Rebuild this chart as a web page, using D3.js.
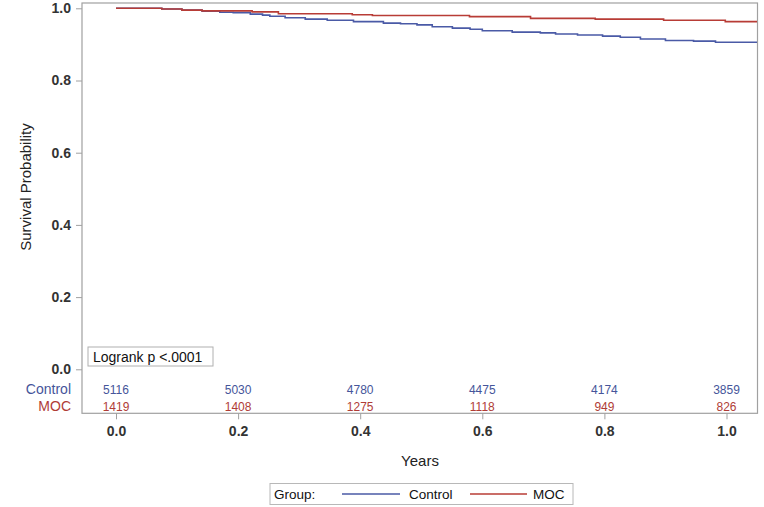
<!DOCTYPE html>
<html><head><meta charset="utf-8">
<script src="https://cdn.jsdelivr.net/npm/d3@7"></script>
<style>body{margin:0;background:#fff;font-family:"Liberation Sans",Arial,sans-serif;}</style>
</head><body><svg id="c" width="764" height="507"></svg>
<script>
const controlTimes = [0, 0.075, 0.108, 0.141, 0.170, 0.192, 0.220, 0.240, 0.252, 0.277, 0.310, 0.346, 0.389, 0.438, 0.466, 0.493, 0.518, 0.551, 0.580, 0.600, 0.649, 0.695, 0.720, 0.756, 0.797, 0.826, 0.859, 0.900, 0.946, 0.982, 1.05];
const controlSurv  = [1.000, 0.998, 0.995, 0.992, 0.989, 0.988, 0.984, 0.981, 0.978, 0.974, 0.970, 0.967, 0.963, 0.959, 0.957, 0.954, 0.949, 0.945, 0.942, 0.938, 0.934, 0.932, 0.929, 0.926, 0.923, 0.920, 0.915, 0.911, 0.909, 0.906, 0.906];
const mocTimes = [0, 0.075, 0.108, 0.141, 0.223, 0.266, 0.387, 0.420, 0.579, 0.679, 0.785, 0.897, 0.998, 1.05];
const mocSurv  = [1.000, 0.998, 0.995, 0.993, 0.990, 0.985, 0.982, 0.980, 0.977, 0.972, 0.970, 0.967, 0.963, 0.963];
const xTicks = [0, 0.2, 0.4, 0.6, 0.8, 1.0];
const yTicks = [0, 0.2, 0.4, 0.6, 0.8, 1.0];
const atRiskControl = [5116, 5030, 4780, 4475, 4174, 3859];
const atRiskMOC = [1419, 1408, 1275, 1118, 949, 826];
const groups = ["Control", "MOC"];
const colors = {Control: "#4a5aa6", MOC: "#b83c36"};
const textColors = {Control: "#45559a", MOC: "#b03c36"};

const svg = d3.select("#c");
const L = 82, R = 757.5, T = 3, B = 413.3;
const x = d3.scaleLinear().domain([0, 1]).range([116, 726.5]);
const y = d3.scaleLinear().domain([0, 1]).range([369.3, 8.3]);

// frame
svg.append("rect").attr("x", L).attr("y", T).attr("width", R - L).attr("height", B - T)
  .attr("fill", "none").attr("stroke", "#a0a0a0").attr("stroke-width", 1.2);

// y axis
const ya = svg.append("g").attr("transform", `translate(${L},0)`)
  .call(d3.axisLeft(y).tickValues(yTicks).tickFormat(d3.format(".1f")).tickSize(6).tickPadding(5));
ya.select(".domain").remove();
ya.selectAll("line").attr("stroke", "#a0a0a0");
ya.selectAll("text").attr("font-size", 14).attr("font-weight", "bold").attr("fill", "#333")
  .attr("font-family", "Liberation Sans, Arial, sans-serif");

// x axis
const xa = svg.append("g").attr("transform", `translate(0,${B})`)
  .call(d3.axisBottom(x).tickValues(xTicks).tickFormat(d3.format(".1f")).tickSize(6).tickPadding(7));
xa.select(".domain").remove();
xa.selectAll("line").attr("stroke", "#a0a0a0");
xa.selectAll("text").attr("font-size", 14).attr("font-weight", "bold").attr("fill", "#333")
  .attr("font-family", "Liberation Sans, Arial, sans-serif");

// axis labels
svg.append("text").attr("transform", "translate(31,187) rotate(-90)").attr("text-anchor", "middle")
  .attr("font-size", 15).attr("fill", "#222").text("Survival Probability");
svg.append("text").attr("x", 420).attr("y", 466).attr("text-anchor", "middle")
  .attr("font-size", 15).attr("fill", "#222").text("Years");

// curves
const line = d3.line().x(d => x(d[0])).y(d => y(d[1])).curve(d3.curveStepAfter);
const series = [
  {name: "Control", pts: d3.zip(controlTimes, controlSurv)},
  {name: "MOC", pts: d3.zip(mocTimes, mocSurv)}
];
svg.append("defs").append("clipPath").attr("id", "clip").append("rect")
  .attr("x", L).attr("y", T).attr("width", R - L).attr("height", B - T);
svg.append("g").attr("clip-path", "url(#clip)").selectAll("path").data(series).join("path")
  .attr("d", d => line(d.pts)).attr("fill", "none")
  .attr("stroke", d => colors[d.name]).attr("stroke-width", 1.6);

// logrank box
svg.append("rect").attr("x", 88).attr("y", 347).attr("width", 125).attr("height", 19)
  .attr("fill", "#fff").attr("stroke", "#b0b0b0").attr("stroke-width", 1);
svg.append("text").attr("x", 93).attr("y", 361.5).attr("font-size", 14).attr("fill", "#111")
  .text("Logrank p <.0001");

// at risk table
const rows = [{name: "Control", vals: atRiskControl, yy: 394}, {name: "MOC", vals: atRiskMOC, yy: 411}];
rows.forEach(r => {
  svg.append("text").attr("x", 71).attr("y", r.yy).attr("text-anchor", "end")
    .attr("font-size", 14).attr("fill", textColors[r.name]).text(r.name);
  svg.append("g").selectAll("text").data(r.vals).join("text")
    .attr("x", (d, i) => x(xTicks[i])).attr("y", r.yy - 0.5).attr("text-anchor", "middle")
    .attr("font-size", 12).attr("fill", textColors[r.name]).text(d => d);
});

// legend
const lg = svg.append("g");
lg.append("rect").attr("x", 270).attr("y", 483.5).attr("width", 303).attr("height", 21)
  .attr("fill", "#fff").attr("stroke", "#b8b8b8").attr("stroke-width", 1);
lg.append("text").attr("x", 274).attr("y", 499).attr("font-size", 13.5).attr("fill", "#111").text("Group:");
const legItems = [{name: "Control", x1: 342, x2: 400, tx: 409}, {name: "MOC", x1: 470, x2: 527, tx: 533}];
legItems.forEach(it => {
  lg.append("line").attr("x1", it.x1).attr("x2", it.x2).attr("y1", 494).attr("y2", 494)
    .attr("stroke", colors[it.name]).attr("stroke-width", 1.5);
  lg.append("text").attr("x", it.tx).attr("y", 499).attr("font-size", 13.5).attr("fill", "#111").text(it.name);
});
</script></body></html>
